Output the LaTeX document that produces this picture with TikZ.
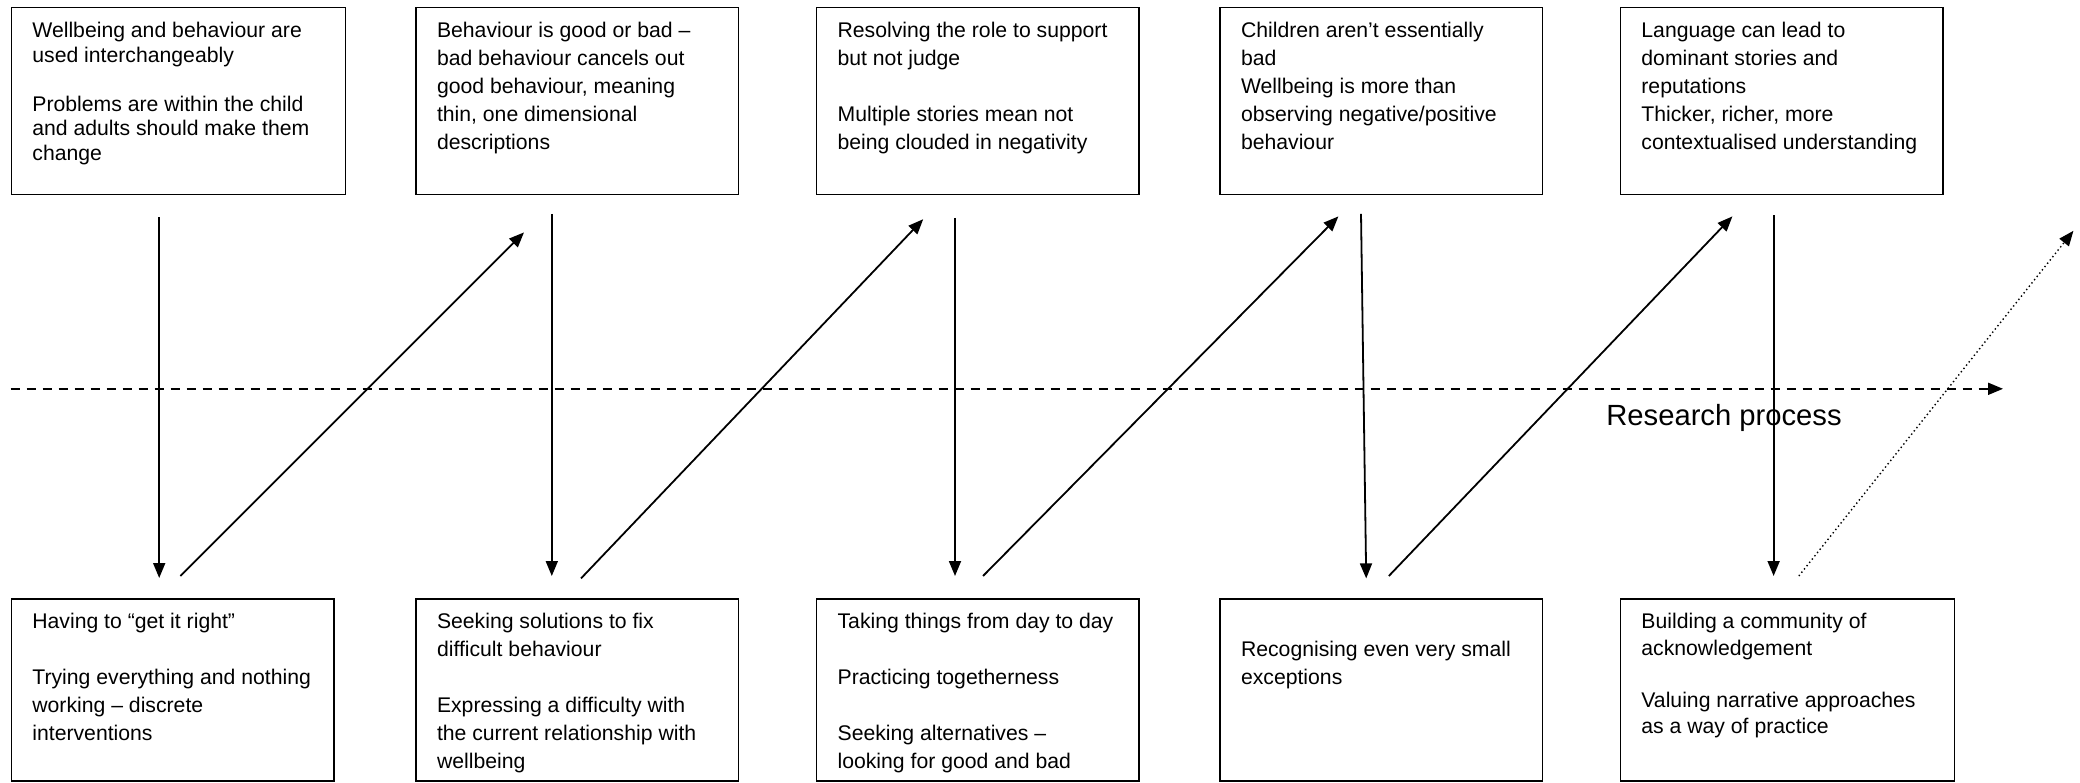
\documentclass[tikz,border=0pt]{standalone}
\usepackage{fontspec}
\setmainfont{Liberation Sans}
\usepackage{tikz}
\usetikzlibrary{arrows.meta,positioning}

% height, width, line spacing, text
\newcommand{\cardtext}[4]{\parbox[c][#1][t]{#2}{\fontsize{10.6pt}{#3}\selectfont\raggedright\rule{0pt}{15pt}#4}}

\tikzset{
  card/.style={draw,line width=0.8pt,anchor=north west,inner xsep=10.5pt,inner ysep=0pt},
  flow/.style={-{Triangle[length=7.5pt,width=6pt]},line width=0.9pt},
}

\begin{document}
\begin{tikzpicture}[x=1pt,y=1pt]
  \useasboundingbox (0,0) rectangle (1040,-391);
  %Nodes
  \node[card] at (5.3,-3.3) (top1) {\cardtext{93.5pt}{146pt}{12.3pt}{Wellbeing and behaviour are\\used interchangeably\\[\baselineskip]Problems are within the child\\and adults should make them\\change}};
  \node[card] at (207.6,-3.3) (top2) {\cardtext{93.5pt}{140.2pt}{14pt}{Behaviour is good or bad --\\bad behaviour cancels out\\good behaviour, meaning\\thin, one dimensional\\descriptions}};
  \node[card] at (407.9,-3.3) (top3) {\cardtext{93.5pt}{140.2pt}{14pt}{Resolving the role to support\\but not judge\\[\baselineskip]Multiple stories mean not\\being clouded in negativity}};
  \node[card] at (609.6,-3.3) (top4) {\cardtext{93.5pt}{140.2pt}{14pt}{Children aren’t essentially\\bad\\Wellbeing is more than\\observing negative/positive\\behaviour}};
  \node[card] at (809.8,-3.3) (top5) {\cardtext{93.5pt}{140.2pt}{14pt}{Language can lead to\\dominant stories and\\reputations\\Thicker, richer, more\\contextualised understanding}};

  \node[card] at (5.3,-299) (bot1) {\cardtext{91.2pt}{140.2pt}{14pt}{Having to “get it right”\\[\baselineskip]Trying everything and nothing\\working -- discrete\\interventions}};
  \node[card] at (207.6,-299) (bot2) {\cardtext{91.2pt}{140.2pt}{14pt}{Seeking solutions to fix\\difficult behaviour\\[\baselineskip]Expressing a difficulty with\\the current relationship with\\wellbeing}};
  \node[card] at (407.9,-299) (bot3) {\cardtext{91.2pt}{140.2pt}{14pt}{Taking things from day to day\\[\baselineskip]Practicing togetherness\\[\baselineskip]Seeking alternatives --\\looking for good and bad}};
  \node[card] at (609.6,-299) (bot4) {\cardtext{91.2pt}{140.2pt}{14pt}{\mbox{}\\Recognising even very small\\exceptions}};
  \node[card] at (809.8,-299) (bot5) {\cardtext{91.2pt}{146pt}{13.1pt}{Building a community of\\acknowledgement\\[\baselineskip]Valuing narrative approaches\\as a way of practice}};

  \coordinate (procstart) at (5.3,-194.4);
  \coordinate (procend) at (1001.5,-194.4);
  \coordinate (nextstage) at (1036.7,-115.4);
  \node at (862,-209) (proclabel) {\fontsize{14.6pt}{17pt}\selectfont Research process};

  %Lines
  \draw[flow,dash pattern=on 4.5pt off 3.5pt] (procstart) -- (procend);

  \draw[flow] ([xshift=74.3pt,yshift=-11pt]top1.south west) -- ([xshift=74.3pt,yshift=10pt]bot1.north west);
  \draw[flow] ([xshift=84.9pt,yshift=11pt]bot1.north west) -- ([xshift=54.4pt,yshift=-18.6pt]top2.south west);
  \draw[flow] ([xshift=68.3pt,yshift=-9.3pt]top2.south west) -- ([xshift=68.3pt,yshift=11pt]bot2.north west);
  \draw[flow] ([xshift=82.9pt,yshift=9.8pt]bot2.north west) -- ([xshift=53.7pt,yshift=-12pt]top3.south west);
  \draw[flow] ([xshift=69.6pt,yshift=-11.3pt]top3.south west) -- ([xshift=69.6pt,yshift=11pt]bot3.north west);
  \draw[flow] ([xshift=83.6pt,yshift=11pt]bot3.north west) -- ([xshift=59.6pt,yshift=-10.6pt]top4.south west);
  \draw[flow] ([xshift=70.9pt,yshift=-9.3pt]top4.south west) -- ([xshift=73.5pt,yshift=9.8pt]bot4.north west);
  \draw[flow] ([xshift=84.8pt,yshift=11pt]bot4.north west) -- ([xshift=56.4pt,yshift=-10.6pt]top5.south west);
  \draw[flow] ([xshift=77pt,yshift=-10pt]top5.south west) -- ([xshift=77pt,yshift=11pt]bot5.north west);
  \draw[flow,line width=0.7pt,dash pattern=on 0.7pt off 1.4pt] ([xshift=89.6pt,yshift=11pt]bot5.north west) -- (nextstage);
\end{tikzpicture}
\end{document}
